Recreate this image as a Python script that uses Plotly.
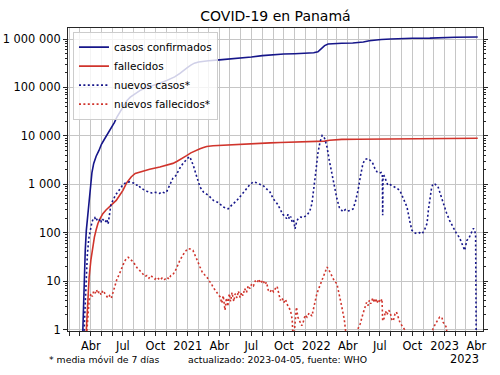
import plotly.graph_objects as go

# ---------------- data ----------------
cum_case_dates = [
    "2020-03-08", "2020-03-09", "2020-03-12", "2020-03-16", "2020-03-19", "2020-03-23",
    "2020-03-27", "2020-03-31", "2020-04-04", "2020-04-09", "2020-04-16", "2020-04-24",
    "2020-05-01", "2020-05-09", "2020-05-17", "2020-05-24", "2020-05-31", "2020-06-07",
    "2020-06-14", "2020-06-23", "2020-07-03", "2020-07-12", "2020-07-22", "2020-08-04",
    "2020-08-18", "2020-09-01", "2020-09-16", "2020-10-01", "2020-10-15", "2020-11-03",
    "2020-11-15", "2020-11-25", "2020-12-10", "2020-12-20", "2020-12-31", "2021-01-10",
    "2021-01-20", "2021-02-01", "2021-02-15", "2021-03-01", "2021-04-01", "2021-05-01",
    "2021-06-01", "2021-07-01", "2021-08-01", "2021-09-01", "2021-10-01", "2021-11-01",
    "2021-12-01", "2021-12-25", "2022-01-06", "2022-01-12", "2022-01-18", "2022-01-25",
    "2022-02-04", "2022-02-20", "2022-03-15", "2022-04-15", "2022-04-30", "2022-05-15",
    "2022-06-01", "2022-06-20", "2022-07-05", "2022-08-01", "2022-08-27", "2022-10-01",
    "2022-11-20", "2022-12-24", "2023-01-31", "2023-04-05",
]
cum_case_vals = [
    0.5, 1, 9, 43, 110, 230,
    560, 1050, 1750, 2700, 3800, 5000,
    6700, 8400, 10500, 12200, 15000, 19000,
    24500, 32000, 43000, 53000, 63000, 74000,
    86000, 96000, 104000, 113000, 123000, 140000,
    152000, 165000, 195000, 225000, 258000, 290000,
    318000, 336000, 348000, 356000, 372000, 385000,
    400000, 425000, 455000, 475000, 490000, 498000,
    505000, 520000, 545000, 590000, 660000, 730000,
    790000, 810000, 820000, 828000, 835000, 870000,
    920000, 955000, 975000, 1000000, 1020000, 1035000,
    1045000, 1075000, 1090000, 1100000,
]

cum_death_dates = [
    "2020-03-17", "2020-03-20", "2020-03-23", "2020-03-27", "2020-04-01", "2020-04-06",
    "2020-04-11", "2020-04-16", "2020-04-21", "2020-04-28", "2020-05-05", "2020-05-14",
    "2020-05-24", "2020-06-02", "2020-06-12", "2020-06-21", "2020-07-01", "2020-07-12",
    "2020-07-25", "2020-08-05", "2020-08-18", "2020-09-15", "2020-10-14", "2020-11-03",
    "2020-11-20", "2020-12-01", "2020-12-10", "2020-12-19", "2020-12-29", "2021-01-10",
    "2021-01-20", "2021-01-27", "2021-02-05", "2021-02-15", "2021-02-24", "2021-03-14",
    "2021-04-03", "2021-04-22", "2021-05-21", "2021-06-27", "2021-07-26", "2021-08-23",
    "2021-09-21", "2021-10-28", "2021-12-01", "2021-12-31", "2022-01-12", "2022-01-25",
    "2022-02-08", "2022-02-25", "2022-03-15", "2022-04-30", "2022-06-15", "2022-07-31",
    "2022-09-30", "2022-12-31", "2023-04-05",
]
cum_death_vals = [
    0.5, 1.5, 3.5, 12, 27, 50,
    81, 115, 155, 200, 247, 295,
    340, 395, 465, 580, 750, 1080,
    1430, 1680, 1800, 2050, 2280, 2500,
    2700, 2950, 3200, 3500, 3900, 4450,
    4850, 5100, 5400, 5750, 6050, 6250,
    6380, 6450, 6580, 6750, 6950, 7150,
    7300, 7400, 7450, 7500, 7600, 7800,
    8100, 8350, 8450, 8500, 8600, 8720,
    8800, 8880, 8950,
]

new_case_dates = [
    "2020-03-11", "2020-03-15", "2020-03-18", "2020-03-22", "2020-03-26", "2020-03-30",
    "2020-04-04", "2020-04-08", "2020-04-12", "2020-04-16", "2020-04-20", "2020-04-25",
    "2020-04-29", "2020-05-03", "2020-05-08", "2020-05-12", "2020-05-16", "2020-05-20",
    "2020-05-24", "2020-05-28", "2020-06-03", "2020-06-10", "2020-06-17", "2020-06-23",
    "2020-07-02", "2020-07-08", "2020-07-13", "2020-07-20", "2020-07-27", "2020-08-04",
    "2020-08-09", "2020-08-13", "2020-08-18", "2020-08-25", "2020-09-07", "2020-09-14",
    "2020-09-20", "2020-09-28", "2020-10-06", "2020-10-13", "2020-10-20", "2020-10-28",
    "2020-11-03", "2020-11-12", "2020-11-20", "2020-11-28", "2020-12-05", "2020-12-12",
    "2020-12-19", "2020-12-26", "2021-01-02", "2021-01-07", "2021-01-12", "2021-01-17",
    "2021-01-27", "2021-02-05", "2021-02-15", "2021-03-01", "2021-03-15", "2021-03-29",
    "2021-04-12", "2021-04-26", "2021-05-06", "2021-05-21", "2021-06-01", "2021-06-13",
    "2021-06-25", "2021-07-06", "2021-07-15", "2021-07-25", "2021-08-03", "2021-08-13",
    "2021-08-23", "2021-09-01", "2021-09-12", "2021-09-20", "2021-09-28", "2021-10-05",
    "2021-10-09", "2021-10-13", "2021-10-17", "2021-10-21", "2021-10-25", "2021-10-29",
    "2021-11-02", "2021-11-07", "2021-11-12", "2021-11-18", "2021-11-25", "2021-12-06",
    "2021-12-14", "2021-12-20", "2021-12-26", "2021-12-31", "2022-01-06", "2022-01-12",
    "2022-01-18", "2022-01-22", "2022-01-26", "2022-02-01", "2022-02-07", "2022-02-14",
    "2022-02-21", "2022-03-01", "2022-03-08", "2022-03-18", "2022-03-25", "2022-04-01",
    "2022-04-08", "2022-04-16", "2022-04-23", "2022-04-30", "2022-05-07", "2022-05-14",
    "2022-05-21", "2022-05-28", "2022-06-04", "2022-06-11", "2022-06-17", "2022-06-23",
    "2022-06-30", "2022-07-05", "2022-07-08", "2022-07-09", "2022-07-10", "2022-07-13",
    "2022-07-19", "2022-07-24", "2022-07-31", "2022-08-07", "2022-08-13", "2022-08-21",
    "2022-08-27", "2022-09-05", "2022-09-16", "2022-09-25", "2022-09-30", "2022-10-07",
    "2022-10-14", "2022-10-22", "2022-10-29", "2022-11-05", "2022-11-12", "2022-11-16",
    "2022-11-20", "2022-11-25", "2022-11-29", "2022-12-05", "2022-12-13", "2022-12-20",
    "2022-12-27", "2023-01-06", "2023-01-15", "2023-01-25", "2023-02-04", "2023-02-12",
    "2023-02-20", "2023-02-27", "2023-03-05", "2023-03-12", "2023-03-18", "2023-03-24",
    "2023-03-30", "2023-04-01",
]
new_case_vals = [
    0.5, 3, 8, 35, 75, 110,
    165, 195, 205, 175, 200, 185,
    160, 195, 180, 165, 190, 150,
    240, 380, 470, 600, 700, 830,
    1000, 1060, 1100, 1120, 1080, 1050,
    960, 990, 880, 800, 720, 700,
    660, 690, 680, 650, 700, 660,
    720, 1000, 1330, 1500, 1900, 2300,
    2700, 3100, 3500, 3700, 3100, 2450,
    1420, 880, 690, 590, 465, 420,
    340, 310, 370, 465, 580, 750,
    950, 1120, 1080, 1000, 950, 800,
    690, 500, 400, 315, 240, 215,
    195, 240, 190, 215, 165, 180,
    120, 175, 200, 210, 205, 230,
    280, 400, 800, 1800, 4400, 7500,
    10200, 9800, 8500, 5800, 3200, 1800,
    900, 500, 330, 270, 300, 280,
    290, 310, 450, 750, 1500, 2700,
    3300, 3400, 3100, 2700, 2100, 1800,
    1700, 1750, 1600, 230, 1450, 1500,
    1100, 950, 980, 920, 880, 800,
    740, 520, 340, 160, 112, 100,
    95, 100, 95, 115, 155, 300,
    545, 850, 1030, 1000, 900, 620,
    400, 260, 180, 130, 95, 80,
    60, 43, 69, 80, 100, 123,
    95, 0.3,
]

new_death_dates = [
    "2020-03-18", "2020-03-23", "2020-03-27", "2020-04-01", "2020-04-05", "2020-04-09",
    "2020-04-13", "2020-04-17", "2020-04-21", "2020-04-25", "2020-04-30", "2020-05-05",
    "2020-05-10", "2020-05-15", "2020-05-19", "2020-05-24", "2020-05-29", "2020-06-03",
    "2020-06-07", "2020-06-14", "2020-06-21", "2020-06-28", "2020-07-06", "2020-07-11",
    "2020-07-16", "2020-07-22", "2020-07-30", "2020-08-06", "2020-08-12", "2020-08-18",
    "2020-08-26", "2020-09-02", "2020-09-07", "2020-09-13", "2020-09-18", "2020-09-24",
    "2020-09-30", "2020-10-06", "2020-10-14", "2020-10-20", "2020-10-26", "2020-11-03",
    "2020-11-09", "2020-11-14", "2020-11-20", "2020-11-28", "2020-12-04", "2020-12-10",
    "2020-12-17", "2020-12-24", "2021-01-02", "2021-01-08", "2021-01-16", "2021-01-24",
    "2021-01-30", "2021-02-05", "2021-02-12", "2021-02-18", "2021-02-25", "2021-03-03",
    "2021-03-09", "2021-03-14", "2021-03-20", "2021-03-27", "2021-04-03", "2021-04-08",
    "2021-04-12", "2021-04-17", "2021-04-21", "2021-04-25", "2021-04-29", "2021-05-03",
    "2021-05-07", "2021-05-12", "2021-05-16", "2021-05-21", "2021-05-25", "2021-05-30",
    "2021-06-03", "2021-06-07", "2021-06-12", "2021-06-17", "2021-06-22", "2021-06-27",
    "2021-07-02", "2021-07-07", "2021-07-12", "2021-07-17", "2021-07-22", "2021-07-27",
    "2021-08-03", "2021-08-08", "2021-08-13", "2021-08-18", "2021-08-23", "2021-08-28",
    "2021-09-02", "2021-09-08", "2021-09-12", "2021-09-17", "2021-09-21", "2021-09-26",
    "2021-10-01", "2021-10-06", "2021-10-13", "2021-10-20", "2021-10-25", "2021-10-28",
    "2021-11-02", "2021-11-06", "2021-11-10", "2021-11-16", "2021-11-21", "2021-11-25",
    "2021-12-01", "2021-12-06", "2021-12-12", "2021-12-20", "2021-12-27", "2022-01-03",
    "2022-01-10", "2022-01-18", "2022-01-25", "2022-02-01", "2022-02-06", "2022-02-11",
    "2022-02-15", "2022-02-22", "2022-03-01", "2022-03-06", "2022-03-11", "2022-03-15",
    "2022-03-22", "2022-03-30", "2022-04-25", "2022-04-29", "2022-05-06", "2022-05-13",
    "2022-05-20", "2022-05-24", "2022-05-28", "2022-06-01", "2022-06-05", "2022-06-11",
    "2022-06-15", "2022-06-19", "2022-06-23", "2022-06-27", "2022-07-02", "2022-07-07",
    "2022-07-09", "2022-07-13", "2022-07-17", "2022-07-21", "2022-07-26", "2022-07-30",
    "2022-08-04", "2022-08-08", "2022-08-13", "2022-08-17", "2022-08-21", "2022-08-27",
    "2022-09-05", "2022-09-14", "2022-09-25", "2022-11-25", "2022-11-29", "2022-12-05",
    "2022-12-13", "2022-12-18", "2022-12-24", "2022-12-28", "2023-01-01", "2023-01-06",
    "2023-01-10", "2023-04-05",
]
new_death_vals = [
    0.5, 2.1, 4, 5.5, 4.8, 6.2,
    5.6, 6.6, 5.5, 6.2, 5.2, 6.4,
    5.8, 5.0, 4.5, 5.0, 4.4, 6,
    8.1, 11, 14, 19, 26, 29,
    31, 28, 25, 21, 18, 16.5,
    14, 12.5, 13, 11.5, 13, 12,
    11, 12, 10.5, 11.5, 10.5, 12,
    11, 13, 13.5, 17, 22, 27,
    33, 40, 47, 46, 43, 33,
    25, 19.5, 15, 13.5, 12, 10,
    9, 7.5, 6.5, 5.5, 4.7, 3.5,
    5, 2.5, 4.5, 3, 5.5, 3.8,
    5.8, 3.8, 5.5, 4.5, 6.2, 4.6,
    5.8, 5, 7, 5.8, 8, 7,
    8.8, 8, 10, 9.2, 11, 9,
    10.5, 8.5, 9.5, 6.5, 5.9, 6.8,
    6, 7.2, 7.8, 5.5, 4, 4.5,
    3.6, 4.2, 3, 2.5, 1.6, 0.5,
    1.2, 2.9, 1.8, 1.5, 1.2, 1.4,
    2, 1.8, 2.2, 1.9, 3.2, 5.5,
    7.5, 10.5, 15, 19.5, 17, 14.5,
    13, 10, 8.8, 5.5, 4, 2.9,
    1.6, 0.5, 0.5, 1.0, 1.3, 2,
    2.9, 3.6, 3.1, 4, 3.4, 4.5,
    3.6, 4.4, 3.5, 4.2, 3.6, 4.3,
    1.5, 1.7, 2.4, 2, 2.5, 2.3,
    1.6, 1.5, 2.1, 2.3, 1.9, 1.4,
    1.1, 0.9, 0.5, 0.5, 1.05, 1.3,
    1.6, 1.8, 1.8, 1.4, 1.3, 1.1,
    0.5, 0.5,
]

x_tick_dates = [
    "2020-04-01", "2020-07-01", "2020-10-01", "2021-01-01", "2021-04-01", "2021-07-01",
    "2021-10-01", "2022-01-01", "2022-04-01", "2022-07-01", "2022-10-01", "2023-01-01",
    "2023-04-01",
]
x_tick_labels = ["Abr", "Jul", "Oct", "2021", "Abr", "Jul", "Oct", "2022", "Abr", "Jul",
                 "Oct", "2023", "Abr"]

y_tick_vals = [1, 10, 100, 1000, 10000, 100000, 1000000]
y_tick_labels = ["1", "10", "100", "1 000", "10 000", "100 000", "1 000 000"]

# ---------------- styling ----------------
BLUE = "#16168a"
RED = "#d0342c"
GRID = "#c6c6c6"
AX = "#262626"
FONT = "DejaVu Sans"

minor_y = [k * 10 ** e for e in range(0, 7) for k in range(2, 10)]

fig = go.Figure()
fig.add_trace(go.Scatter(x=cum_case_dates, y=cum_case_vals, mode="lines",
                         name="casos confirmados", line=dict(color=BLUE, width=1.6)))
fig.add_trace(go.Scatter(x=cum_death_dates, y=cum_death_vals, mode="lines",
                         name="fallecidos", line=dict(color=RED, width=1.6)))
fig.add_trace(go.Scatter(x=new_case_dates, y=new_case_vals, mode="lines",
                         name="nuevos casos*",
                         line=dict(color=BLUE, width=1.6, dash="2px,2.4px")))
fig.add_trace(go.Scatter(x=new_death_dates, y=new_death_vals, mode="lines",
                         name="nuevos fallecidos*",
                         line=dict(color=RED, width=1.6, dash="2px,2.4px")))

fig.update_layout(
    width=500, height=375,
    margin=dict(l=68, r=17, t=28, b=44, autoexpand=False),
    paper_bgcolor="white", plot_bgcolor="white",
    font=dict(family=FONT, size=11.4, color="black"),
    title=dict(text="COVID-19 en Panamá", x=0.5, xref="paper", xanchor="center",
               y=1 - 16 / 375, yref="container", yanchor="middle",
               font=dict(family=FONT, size=14, color="black")),
    legend=dict(x=0.012, y=0.988, xanchor="left", yanchor="top",
                bgcolor="rgba(255,255,255,0.8)", bordercolor="#cccccc", borderwidth=1,
                font=dict(family=FONT, size=10.5, color="black"),
                itemwidth=30, tracegroupgap=0),
    showlegend=True,
)

fig.update_xaxes(
    type="date", range=["2020-01-27", "2023-04-20"], automargin=False,
    tickmode="array", tickvals=x_tick_dates, ticktext=x_tick_labels, tickangle=0,
    ticks="outside", ticklen=4, tickcolor=AX, tickwidth=1,
    showline=True, linecolor=AX, linewidth=1, mirror=True,
    showgrid=True, gridcolor=GRID, gridwidth=1, zeroline=False,
    tickfont=dict(family=FONT, size=11.4, color="black"),
    minor=dict(dtick="M1", tick0="2020-01-01", ticks="outside", ticklen=4,
               tickcolor=AX, showgrid=True, gridcolor=GRID, gridwidth=1),
)
fig.update_yaxes(
    type="log", range=[-0.031, 6.228], automargin=False,
    tickmode="array", tickvals=y_tick_vals, ticktext=y_tick_labels,
    ticks="outside", ticklen=4, tickcolor=AX, tickwidth=1,
    showline=True, linecolor=AX, linewidth=1, mirror="allticks",
    showgrid=True, gridcolor=GRID, gridwidth=1, zeroline=False,
    tickfont=dict(family=FONT, size=11.4, color="black"),
    minor=dict(tickmode="array", tickvals=minor_y, ticks="outside", ticklen=2,
               tickcolor=AX, showgrid=False),
)

fig.add_annotation(text="* media móvil de 7 días", xref="paper", yref="paper",
                   x=(47 - 68) / 415, y=(331 - 359) / 303, xanchor="left", yanchor="middle",
                   showarrow=False, font=dict(family=FONT, size=9.3, color="black"))
fig.add_annotation(text="actualizado: 2023-04-05, fuente: WHO", xref="paper", yref="paper",
                   x=(186 - 68) / 415, y=(331 - 359) / 303, xanchor="left", yanchor="middle",
                   showarrow=False, font=dict(family=FONT, size=9.3, color="black"))
fig.add_annotation(text="2023", xref="paper", yref="paper",
                   x=(481 - 68) / 415, y=(331 - 359) / 303, xanchor="right", yanchor="middle",
                   showarrow=False, font=dict(family=FONT, size=11.4, color="black"))

fig.write_html("out.html",
               config={"displayModeBar": False},
               post_script="document.body.style.margin='0';document.body.style.overflow='hidden';")
